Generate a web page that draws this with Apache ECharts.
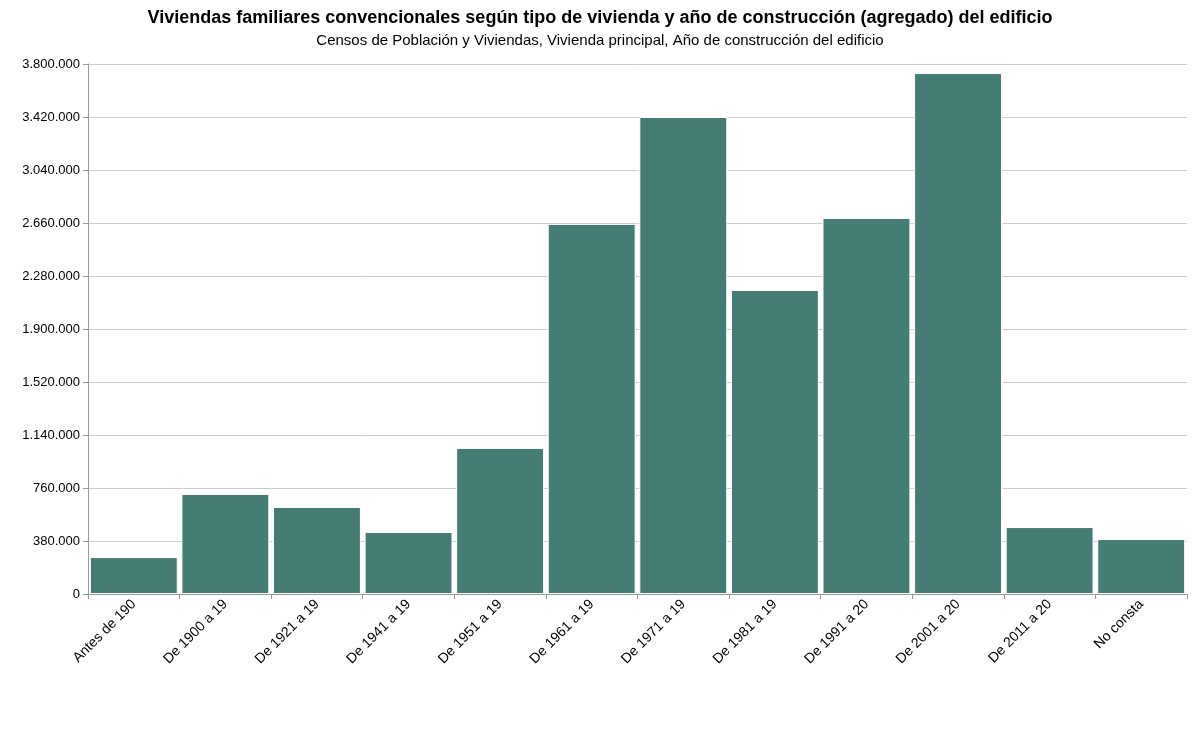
<!DOCTYPE html>
<html><head><meta charset="utf-8">
<script src="https://cdn.jsdelivr.net/npm/echarts@6/dist/echarts.min.js"></script>
<style>html,body{margin:0;padding:0;background:#fff}#c{width:1200px;height:738px}</style>
</head><body><div id="c"></div>
<script>
var categories = ["Antes de 190","De 1900 a 19","De 1921 a 19","De 1941 a 19","De 1951 a 19","De 1961 a 19","De 1971 a 19","De 1981 a 19","De 1991 a 20","De 2001 a 20","De 2011 a 20","No consta"];
var values = [265000,717000,624000,445000,1047000,2653000,3420000,2180000,2696000,3735000,480000,394000];
var chart = echarts.init(document.getElementById('c'));
function fmt(v){return String(v).replace(/\B(?=(\d{3})+(?!\d))/g,'.');}
chart.setOption({
  animation:false,
  title:[{text:'Viviendas familiares convencionales según tipo de vivienda y año de construcción (agregado) del edificio',left:'center',top:4,textStyle:{fontFamily:'Liberation Sans',fontSize:18,fontWeight:'bold',color:'#000'}},
         {text:'Censos de Población y Viviendas, Vivienda principal, Año de construcción del edificio',left:'center',top:28,textStyle:{fontFamily:'Liberation Sans',fontSize:15,fontWeight:'normal',color:'#000'}}],
  grid:{left:88,right:13,top:64,bottom:144},
  xAxis:{type:'category',data:categories,axisLine:{lineStyle:{color:'#999'}},axisTick:{show:true,lineStyle:{color:'#999'}},
    axisLabel:{rotate:45,interval:0,fontFamily:'Liberation Sans',fontSize:14,color:'#000'}},
  yAxis:{type:'value',min:0,max:3800000,interval:380000,axisLine:{show:true,lineStyle:{color:'#999'}},axisTick:{show:true,lineStyle:{color:'#999'}},
    splitLine:{lineStyle:{color:'#ccc'}},axisLabel:{formatter:fmt,fontFamily:'Liberation Sans',fontSize:13,color:'#000'}},
  series:[{type:'bar',data:values,barCategoryGap:'4%',itemStyle:{color:'#457d75',borderColor:'#fff',borderWidth:1}}]
});
</script></body></html>
